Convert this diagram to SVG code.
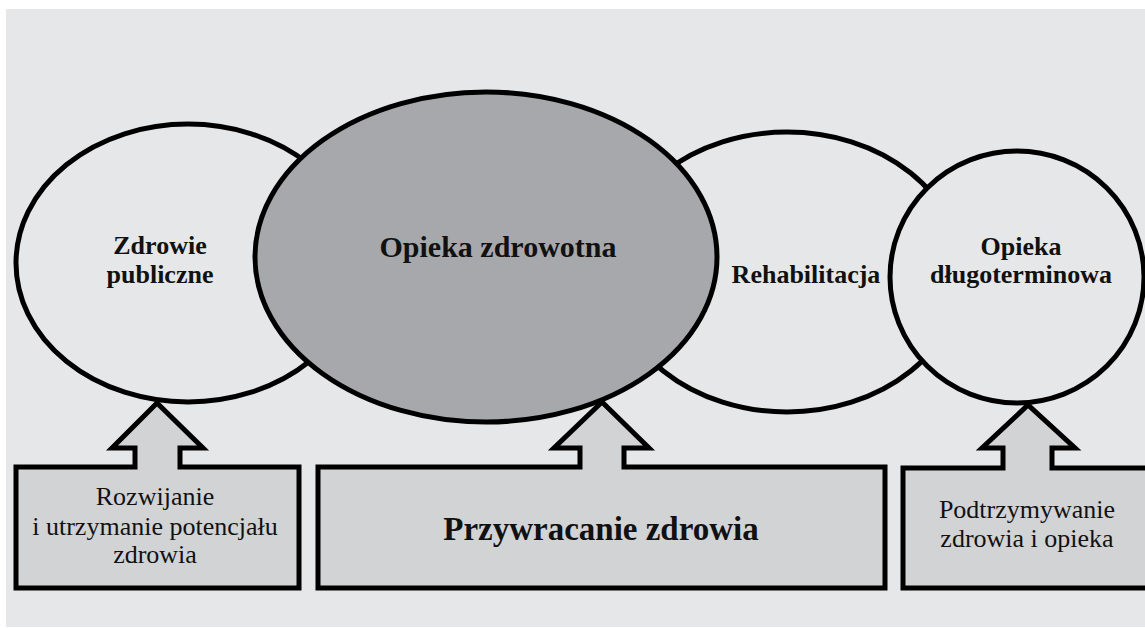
<svg xmlns="http://www.w3.org/2000/svg" width="1145" height="628" viewBox="0 0 1145 628">
<style>
.sh{stroke:#000;stroke-width:5;stroke-linejoin:miter}
.lt{fill:#e6e7e9}
.dk{fill:#a7a8ac}
.bx{fill:#d2d3d5}
text{font-family:"Liberation Serif","Times New Roman",serif;fill:#111;text-anchor:middle}
.b{font-weight:bold;font-size:26px}
.r{font-size:26px}
</style>
<rect x="0" y="0" width="1145" height="628" fill="#ffffff"/>
<rect x="6" y="9" width="1139" height="618" fill="#e6e7e9"/>
<g id="zdrowie-publiczne">
<ellipse class="sh lt" cx="188" cy="263" rx="172" ry="139"/>
</g>
<g id="rehabilitacja">
<ellipse class="sh lt" cx="787" cy="272" rx="175" ry="140"/>
</g>
<g id="opieka-dlugoterminowa">
<ellipse class="sh lt" cx="1017" cy="277" rx="127" ry="126"/>
</g>
<g id="opieka-zdrowotna">
<ellipse class="sh dk" cx="486" cy="257" rx="231" ry="165"/>
</g>
<g id="labels">
<text class="b" x="160" y="254">Zdrowie</text>
<text class="b" x="160" y="283">publiczne</text>
<text class="b" x="498" y="257" style="font-size:30px">Opieka zdrowotna</text>
<text class="b" x="806" y="283">Rehabilitacja</text>
<text class="b" x="1021" y="255">Opieka</text>
<text class="b" x="1021" y="283">długoterminowa</text>
</g>
<g id="connectors">
<g id="box-rozwijanie">
<path class="sh bx" d="M16,467 H135 V448 H112 L157,403 L203,448 H180 V467 H299 V588 H16 Z"/>
<text class="r" x="155" y="505">Rozwijanie</text>
<text class="r" x="155" y="535">i utrzymanie potencjału</text>
<text class="r" x="155" y="563">zdrowia</text>
</g>
<g id="box-przywracanie">
<path class="sh bx" d="M318,467 H580 V448 H554 L602,402 L649,448 H624 V467 H885 V588 H318 Z"/>
<text class="b" x="601" y="540" style="font-size:33px">Przywracanie zdrowia</text>
</g>
<g id="box-podtrzymywanie">
<path class="sh bx" d="M903,468 H1003 V448 H982 L1028,405 L1075,448 H1052 V468 H1150 V588 H903 Z"/>
<text class="r" x="1027" y="518">Podtrzymywanie</text>
<text class="r" x="1027" y="547">zdrowia i opieka</text>
</g>
</g>
</svg>
